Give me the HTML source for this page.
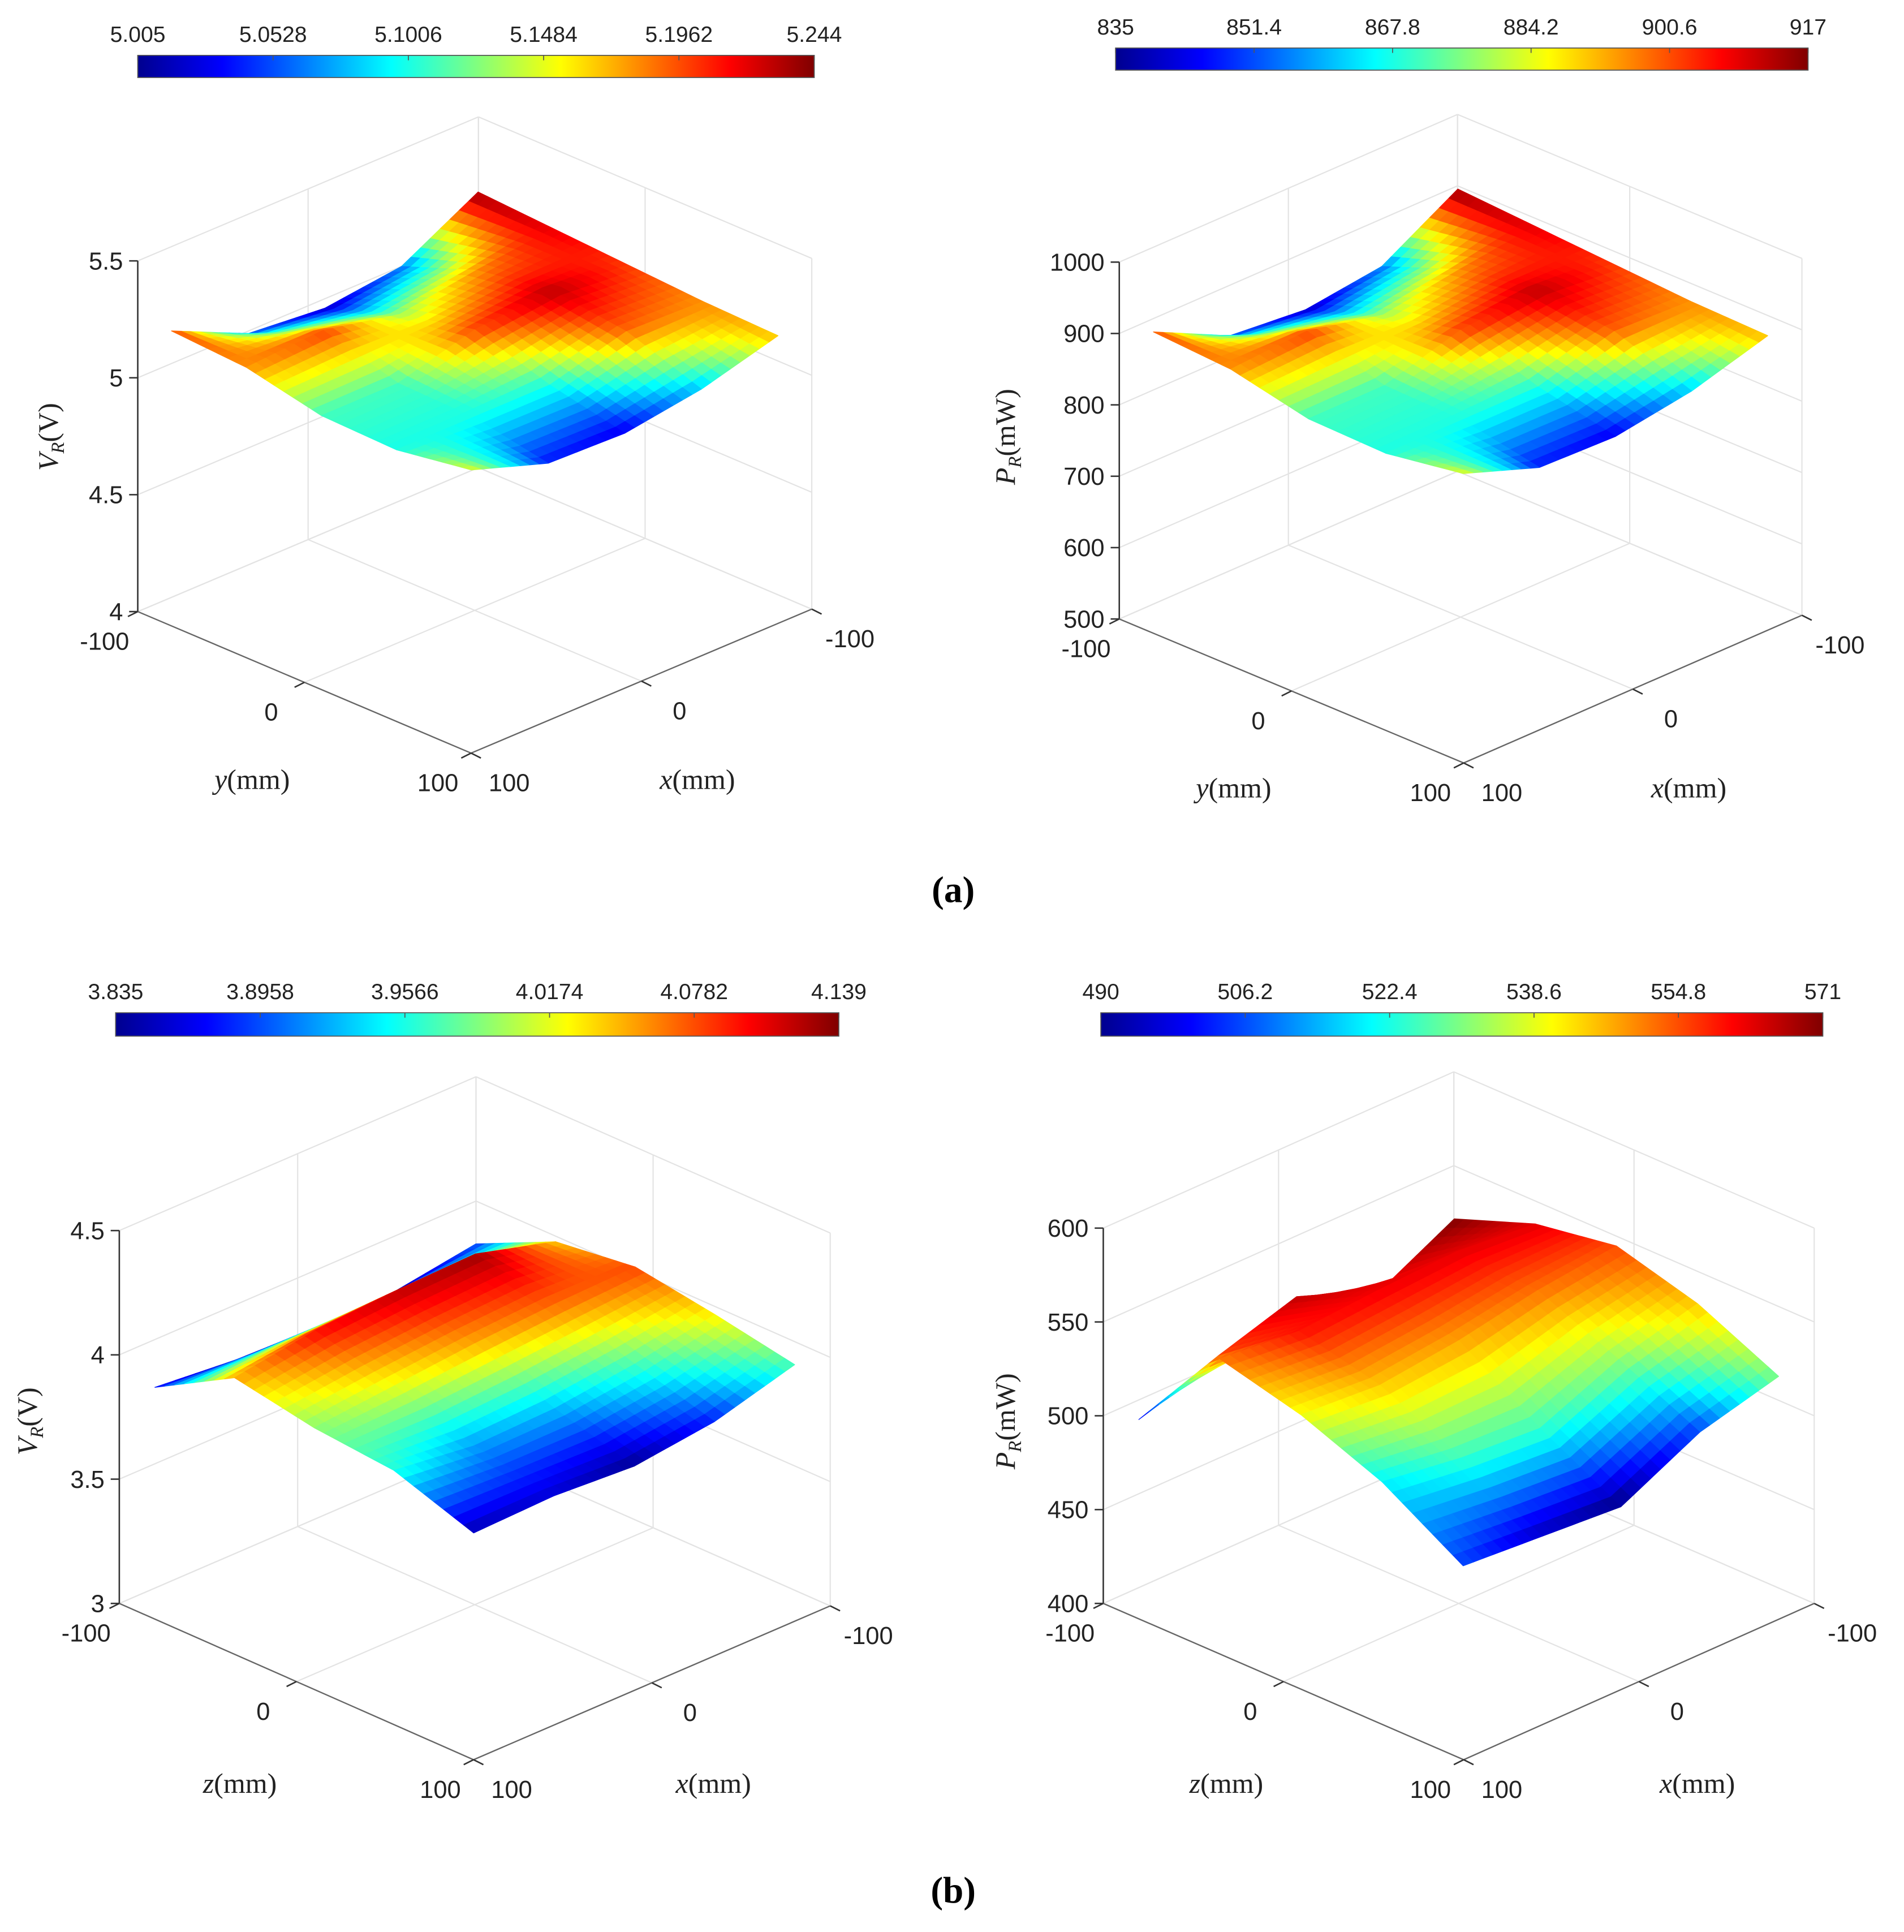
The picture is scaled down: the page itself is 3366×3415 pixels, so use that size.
<!DOCTYPE html>
<html><head><meta charset="utf-8"><title>Received voltage and power surfaces</title>
<style>html,body{margin:0;padding:0;background:#fff}svg{display:block}</style></head>
<body>
<svg id="fig" xmlns="http://www.w3.org/2000/svg" width="3366" height="3415" viewBox="0 0 1548 1570" preserveAspectRatio="none">
<defs>
<linearGradient id="jetGrad" x1="0" x2="1" y1="0" y2="0">
<stop offset="0" stop-color="#00008f"/><stop offset="0.125" stop-color="#0000ff"/><stop offset="0.375" stop-color="#00ffff"/><stop offset="0.625" stop-color="#ffff00"/><stop offset="0.875" stop-color="#ff0000"/><stop offset="1" stop-color="#800000"/>
</linearGradient>
</defs>
<rect x="0" y="0" width="1548" height="1570" fill="#fff"/>
<text x="775" y="733" text-anchor="middle" font-family="Liberation Serif, serif" font-weight="bold" font-size="30">(a)</text>
<text x="775" y="1546" text-anchor="middle" font-family="Liberation Serif, serif" font-weight="bold" font-size="30">(b)</text>
</svg>
<script>
// ---- data (grid rows: x = 90,45,0,-45,-90 ; columns: second axis = -90,-45,0,45,90) ----
const gridX = [90, 45, 0, -45, -90];
const gridY = [-90, -45, 0, 45, 90];
const axisTicks = [-100, 0, 100];
const voltA = [
 [5.20, 5.18, 5.11, 5.10, 5.15],
 [5.05, 5.20, 5.11, 5.10, 5.04],
 [5.02, 5.13, 5.20, 5.10, 5.03],
 [5.06, 5.18, 5.23, 5.19, 5.08],
 [5.24, 5.22, 5.20, 5.18, 5.17]];
const powerA = [
 [902, 895, 871, 868, 885],
 [850, 902, 871, 868, 847],
 [840, 878, 902, 868, 844],
 [854, 895, 912, 899, 861],
 [916, 909, 902, 895, 892]];
const voltB = [
 [3.87, 4.05, 3.99, 3.96, 3.85],
 [3.84, 4.10, 4.02, 3.92, 3.86],
 [3.83, 4.12, 4.05, 3.93, 3.84],
 [3.84, 4.13, 4.07, 3.97, 3.88],
 [3.89, 4.04, 4.08, 4.03, 3.97]];
const powerBHeight = [
 [498, 549, 538, 521, 495],
 [513, 545, 535, 515, 492],
 [526, 548, 540, 512, 489],
 [508, 550, 548, 530, 510],
 [530, 546, 553, 541, 521]];
const powerBColor = [
 [495, 552, 540, 520, 505],
 [555, 560, 545, 525, 495],
 [566, 562, 548, 525, 490],
 [560, 563, 552, 532, 505],
 [571, 563, 555, 545, 530]];
const zTicksA1 = [4, 4.5, 5, 5.5];
const zTicksA2 = [500, 600, 700, 800, 900, 1000];
const zTicksB1 = [3, 3.5, 4, 4.5];
const zTicksB2 = [400, 450, 500, 550, 600];
const cbTicksA1 = ['5.005','5.0528','5.1006','5.1484','5.1962','5.244'];
const cbTicksA2 = ['835','851.4','867.8','884.2','900.6','917'];
const cbTicksB1 = ['3.835','3.8958','3.9566','4.0174','4.0782','4.139'];
const cbTicksB2 = ['490','506.2','522.4','538.6','554.8','571'];
const climA1 = [5.005, 5.244];
const climA2 = [835, 917];
const climB1 = [3.835, 4.139];
const climB2 = [490, 571];

const NS = 'http://www.w3.org/2000/svg';
const svg = document.getElementById('fig');
function mk(tag, attrs, parent){const e=document.createElementNS(NS,tag);for(const k in attrs)e.setAttribute(k,attrs[k]);(parent||svg).appendChild(e);return e;}
function jet(t){t=Math.max(0,Math.min(1,t));const f=v=>Math.round(255*Math.max(0,Math.min(1,v)));return 'rgb('+f(1.5-Math.abs(4*t-3))+','+f(1.5-Math.abs(4*t-2))+','+f(1.5-Math.abs(4*t-1))+')';}

const plots = [
 {key:'a-left',cx:386,cy:496,a:-1.385,b:1.355,c:0.585,d:0.575,k:190,zmin:4,zmax:5.5,zt:zTicksA1,Z:voltA,C:voltA,clim:climA1,cb:{x:112,y:45,w:550,h:18},cbt:cbTicksA1,zlab:'V',zunit:'(V)',zlx:47,zly:355,yname:'y',ylab:[205,641],xlab:[567,641]},
 {key:'a-right',cx:1187.5,cy:501.5,a:-1.375,b:1.4,c:0.6,d:0.585,k:0.58,zmin:500,zmax:1000,zt:zTicksA2,Z:powerA,C:powerA,clim:climA2,cb:{x:907,y:39,w:563,h:18},cbt:cbTicksA2,zlab:'P',zunit:'(mW)',zlx:825,zly:355,yname:'y',ylab:[1003,648],xlab:[1373,648]},
 {key:'b-left',cx:386,cy:1304,a:-1.45,b:1.44,c:0.625,d:0.635,k:202,zmin:3,zmax:4.5,zt:zTicksB1,Z:voltB,C:voltB,clim:climB1,cb:{x:94,y:823,w:588,h:19},cbt:cbTicksB1,zlab:'V',zunit:'(V)',zlx:30,zly:1155,yname:'z',ylab:[195,1457],xlab:[580,1457]},
 {key:'b-right',cx:1186,cy:1303,a:-1.425,b:1.465,c:0.635,d:0.635,k:1.525,zmin:400,zmax:600,zt:zTicksB2,Z:powerBHeight,C:powerBColor,clim:climB2,cb:{x:895,y:823,w:587,h:19},cbt:cbTicksB2,zlab:'P',zunit:'(mW)',zlx:825,zly:1155,yname:'z',ylab:[997,1457],xlab:[1380,1457]}
];

plots.forEach(p=>{
 const P=(x,y,z)=>[p.cx+p.a*x+p.b*y, p.cy+p.c*x+p.d*y-p.k*(z-p.zmin)];
 const g=mk('g',{});
 
 
 const line=(A,B,col,w,name)=>{const l=mk('line',{x1:A[0],y1:A[1],x2:B[0],y2:B[1],stroke:col,'stroke-width':w},g);return l;};
 const grid='#e3e3e3';
 p.zt.forEach(z=>{
  line(P(100,-100,z),P(-100,-100,z),grid,1,'gridline-z');
  line(P(-100,-100,z),P(-100,100,z),grid,1,'gridline-z');
 });
 axisTicks.forEach(t=>{
  line(P(t,-100,p.zmin),P(t,-100,p.zmax),grid,1,'gridline-wall');
  line(P(-100,t,p.zmin),P(-100,t,p.zmax),grid,1,'gridline-wall');
  line(P(t,-100,p.zmin),P(t,100,p.zmin),grid,1,'gridline-floor');
  line(P(-100,t,p.zmin),P(100,t,p.zmin),grid,1,'gridline-floor');
 });
 line(P(100,-100,p.zmin),P(100,-100,p.zmax),'#333',1.2,'z-axis-line');
 line(P(100,-100,p.zmin),P(100,100,p.zmin),'#666',1.1,'y-axis-line');
 line(P(100,100,p.zmin),P(-100,100,p.zmin),'#666',1.1,'x-axis-line');
 p.zt.forEach(z=>{
  const q=P(100,-100,z);
  line(q,[q[0]-7,q[1]],'#333',1.2,'z-tick');
  const t=mk('text',{x:q[0]-12,y:q[1]+7,'text-anchor':'end','font-family':'Liberation Sans, sans-serif','font-size':20,fill:'#222'},g);
  t.textContent=String(z);
  
  
 });
 axisTicks.forEach(v=>{
  const q=P(100,v,p.zmin);
  line(q,[q[0]-8,q[1]+4],'#333',1.2,'y-tick');
  const t=mk('text',{x:q[0]-27,y:q[1]+31,'text-anchor':'middle','font-family':'Liberation Sans, sans-serif','font-size':20,fill:'#222'},g);
  t.textContent=String(v);
  
  
  const r=P(v,100,p.zmin);
  line(r,[r[0]+8,r[1]+4],'#333',1.2,'x-tick');
  const u=mk('text',{x:r[0]+31,y:r[1]+31,'text-anchor':'middle','font-family':'Liberation Sans, sans-serif','font-size':20,fill:'#222'},g);
  u.textContent=String(v);
  
  
 });
 const n=8, polys=[];
 const bil=(M,i,j,s,t)=>M[i][j]*(1-s)*(1-t)+M[i+1][j]*s*(1-t)+M[i][j+1]*(1-s)*t+M[i+1][j+1]*s*t;
 for(let i=0;i<gridX.length-1;i++)for(let j=0;j<gridY.length-1;j++)for(let u=0;u<n;u++)for(let v=0;v<n;v++){
  const pts=[[u,v],[u+1,v],[u+1,v+1],[u,v+1]].map(([a,b])=>{const s=a/n,t=b/n;const x=gridX[i]+(gridX[i+1]-gridX[i])*s;const y=gridY[j]+(gridY[j+1]-gridY[j])*t;return {x,y,z:bil(p.Z,i,j,s,t),c:bil(p.C,i,j,s,t)};});
  const cx=pts.reduce((s,q)=>s+q.x,0)/4, cy=pts.reduce((s,q)=>s+q.y,0)/4, cc=pts.reduce((s,q)=>s+q.c,0)/4;
  polys.push({pts,depth:cx+cy,col:jet((cc-p.clim[0])/(p.clim[1]-p.clim[0]))});
 }
 polys.sort((A,B)=>A.depth-B.depth);
 const sg=mk('g',{},g);
 
 
 polys.forEach(q=>{
  const pl=mk('polygon',{points:q.pts.map(o=>P(o.x,o.y,o.z).map(v=>v.toFixed(2)).join(',')).join(' '),fill:q.col,stroke:q.col,'stroke-width':0.6,'stroke-linejoin':'round'},sg);
  
  
 });
 const cb=mk('rect',{x:p.cb.x,y:p.cb.y,width:p.cb.w,height:p.cb.h,fill:'url(#jetGrad)',stroke:'#555','stroke-width':0.8},g);
 
 
 p.cbt.forEach((lab,k)=>{
  const x=p.cb.x+p.cb.w*k/(p.cbt.length-1);
  line([x,p.cb.y],[x,p.cb.y+4],'#555',0.8,'colorbar-tick');
  const t=mk('text',{x:x,y:p.cb.y-11,'text-anchor':'middle','font-family':'Liberation Sans, sans-serif','font-size':18,fill:'#222'},g);
  t.textContent=lab;
  
  
 });
 const zt=mk('text',{x:p.zlx,y:p.zly,transform:'rotate(-90 '+p.zlx+' '+p.zly+')','text-anchor':'middle','font-family':'Liberation Serif, serif','font-size':23,fill:'#222'},g);
 zt.innerHTML='<tspan font-style="italic">'+p.zlab+'</tspan><tspan font-style="italic" font-size="15" dy="5">R</tspan><tspan dy="-5">'+p.zunit+'</tspan>';
 
 
 const yt=mk('text',{x:p.ylab[0],y:p.ylab[1],'text-anchor':'middle','font-family':'Liberation Serif, serif','font-size':23,fill:'#222'},g);
 yt.innerHTML='<tspan font-style="italic">'+p.yname+'</tspan>(mm)';
 
 
 const xt=mk('text',{x:p.xlab[0],y:p.xlab[1],'text-anchor':'middle','font-family':'Liberation Serif, serif','font-size':23,fill:'#222'},g);
 xt.innerHTML='<tspan font-style="italic">x</tspan>(mm)';
 
 
});
</script>
</body></html>
